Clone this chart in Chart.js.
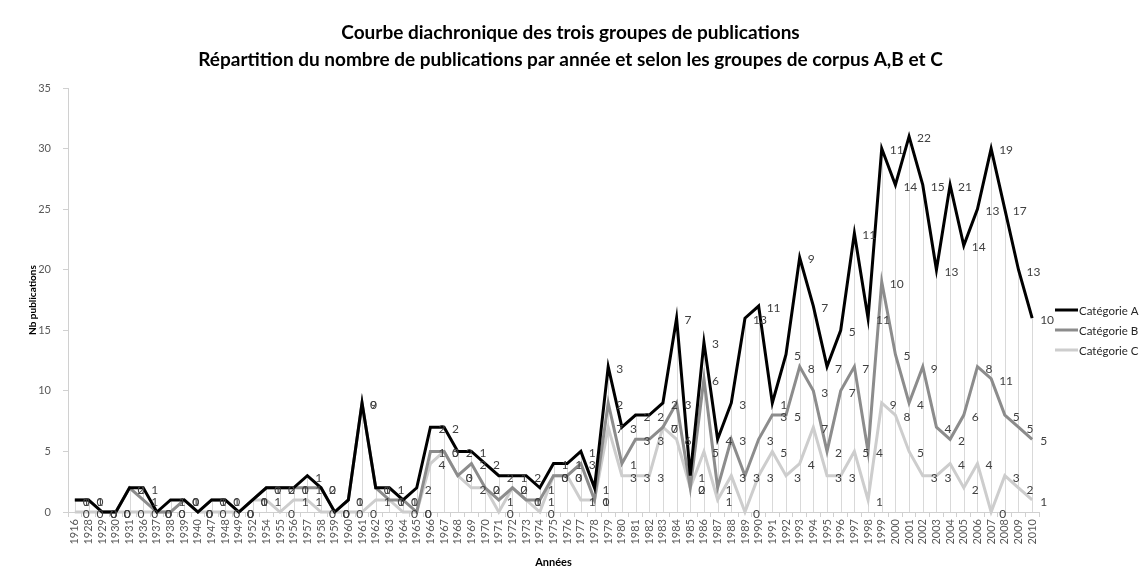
<!DOCTYPE html>
<html>
<head>
<meta charset="utf-8">
<script src="https://cdn.jsdelivr.net/npm/chart.js@4.4.0/dist/chart.umd.min.js"></script>
<style>
html,body{margin:0;padding:0;background:#ffffff;}
#wrap{width:1141px;height:576px;}
</style>
</head>
<body>
<div id="wrap"><canvas id="chart" width="1141" height="576"></canvas></div>
<script>
// ---------- DATA ----------
const years = ["1916","1928","1929","1930","1931","1936","1937","1938","1939","1940",
  "1947","1948","1949","1952","1954","1955","1956","1957","1958","1959",
  "1960","1961","1962","1963","1964","1965","1966","1967","1968","1969",
  "1970","1971","1972","1973","1974","1975","1976","1977","1978","1979",
  "1980","1981","1982","1983","1984","1985","1986","1987","1988","1989",
  "1990","1991","1992","1993","1994","1995","1996","1997","1998","1999",
  "2000","2001","2002","2003","2004","2005","2006","2007","2008","2009","2010"];

// individual values per group (the chart stacks them)
const catA = [0,0,0,0,0,1,0,1,0,0,
  0,0,0,0,0,0,0,1,0,0,
  0,0,0,1,0,2,2,2,2,1,
  2,2,1,2,1,1,1,1,1,3,
  3,2,2,2,7,1,3,4,3,13,
  11,1,5,9,7,7,5,11,11,11,
  14,22,15,13,21,14,13,19,17,13,10];
const catB = [1,1,0,0,2,1,0,0,0,0,
  1,1,0,0,1,2,1,1,2,0,
  1,9,1,0,1,0,1,0,0,2,
  0,1,0,0,1,0,0,3,0,2,
  1,3,3,0,3,0,6,1,3,3,
  3,3,5,8,3,2,7,7,4,10,
  5,4,9,4,2,6,8,11,5,5,5];
const catC = [0,0,0,0,0,0,0,0,1,0,
  0,0,0,1,1,0,1,1,0,0,
  0,0,1,1,0,0,4,5,3,2,
  2,0,2,1,0,3,3,1,1,7,
  3,3,3,7,6,2,5,1,3,0,
  3,5,3,4,7,3,3,5,1,9,
  8,5,3,3,4,2,4,0,3,2,1];

const seriesNames = ["Catégorie A", "Catégorie B", "Catégorie C"];
const titleLines = ["Courbe diachronique des trois groupes de publications",
  "Répartition du nombre de publications par année et selon les groupes de corpus A,B et C"];
const xTitle = "Années";
const yTitle = "Nb publications";
const yMin = 0, yMax = 35, yStep = 5;

// ---------- STYLE ----------
const FONT = 'Lato, "Open Sans", "Liberation Sans", sans-serif';
const colA = "#000000", colB = "#8c8c8c", colC = "#cdcdcd";
const axisCol = "#d0d0d0";

// plugin: title, drop lines, series drawing order (A on top), data labels, legend
const excelLook = {
  id: "excelLook",
  beforeDatasetsDraw(chart) {
    const ctx = chart.ctx, area = chart.chartArea;
    const topMeta = chart.getDatasetMeta(2);
    ctx.save();
    ctx.strokeStyle = "#d9d9d9";
    ctx.lineWidth = 1;
    topMeta.data.forEach(pt => {
      const x = Math.round(pt.x) + 0.5;
      ctx.beginPath();
      ctx.moveTo(x, pt.y);
      ctx.lineTo(x, area.bottom);
      ctx.stroke();
    });
    ctx.restore();
    [0, 1, 2].forEach(i => {
      ctx.save();
      chart.getDatasetMeta(i).controller.draw();
      ctx.restore();
    });
    return false;
  },
  afterDraw(chart) {
    const ctx = chart.ctx, area = chart.chartArea;
    ctx.save();
    // title, centred on the whole canvas
    ctx.fillStyle = "#000000";
    ctx.textAlign = "center";
    ctx.textBaseline = "middle";
    ctx.font = "bold 19px " + FONT;
    titleLines.forEach((t, k) => ctx.fillText(t, chart.width / 2, 33 + k * 27));
    // data labels
    ctx.font = "12px " + FONT;
    ctx.fillStyle = "#404040";
    ctx.textAlign = "left";
    [2, 1, 0].forEach(i => {
      const meta = chart.getDatasetMeta(i);
      const ds = chart.data.datasets[i];
      meta.data.forEach((pt, j) => {
        ctx.fillText(String(ds.data[j]), pt.x + 8, pt.y + 2);
      });
    });
    // legend
    const lx = area.right + 16;
    let ly = area.top + 222;
    ctx.font = "11.5px " + FONT;
    ctx.fillStyle = "#262626";
    [2, 1, 0].forEach(i => {
      const ds = chart.data.datasets[i];
      ctx.strokeStyle = ds.borderColor;
      ctx.lineWidth = 3;
      ctx.beginPath();
      ctx.moveTo(lx, ly);
      ctx.lineTo(lx + 23, ly);
      ctx.stroke();
      ctx.fillText(ds.label, lx + 24, ly + 1);
      ly += 20;
    });
    ctx.restore();
  }
};

const mk = (label, data, color) => ({
  label, data,
  borderColor: color, backgroundColor: color,
  borderWidth: 3, pointRadius: 0, pointHoverRadius: 0,
  tension: 0, fill: false
});

new Chart(document.getElementById("chart"), {
  type: "line",
  data: {
    labels: years,
    datasets: [
      mk(seriesNames[2], catC, colC),
      mk(seriesNames[1], catB, colB),
      mk(seriesNames[0], catA, colA)
    ]
  },
  options: {
    responsive: false,
    animation: false,
    devicePixelRatio: 1,
    layout: { padding: { left: 0, right: 102, top: 88, bottom: 0 } },
    plugins: {
      legend: { display: false },
      tooltip: { enabled: false },
      title: { display: false }
    },
    scales: {
      x: {
        type: "category",
        offset: true,
        grid: { offset: true, drawOnChartArea: false, tickLength: 5, color: axisCol },
        border: { color: axisCol },
        ticks: {
          autoSkip: false, maxRotation: 90, minRotation: 90,
          color: "#595959", font: { family: FONT, size: 11 }, padding: 2
        },
        title: {
          display: true, text: xTitle, color: "#000000",
          font: { family: FONT, size: 11, weight: "bold" },
          padding: { top: 0, bottom: 7 }
        },
        afterFit(s) { s.height = 64; }
      },
      y: {
        stacked: true,
        min: yMin, max: yMax,
        grid: { drawOnChartArea: false, tickLength: 5, color: axisCol },
        border: { color: axisCol },
        ticks: { stepSize: yStep, color: "#595959", font: { family: FONT, size: 11 }, padding: 12 },
        title: {
          display: true, text: yTitle, color: "#000000",
          font: { family: FONT, size: 10, weight: "bold" },
          padding: { top: 27, bottom: 0 }
        },
        afterFit(s) { s.width = 68; }
      }
    }
  },
  plugins: [excelLook]
});
</script>
</body>
</html>
